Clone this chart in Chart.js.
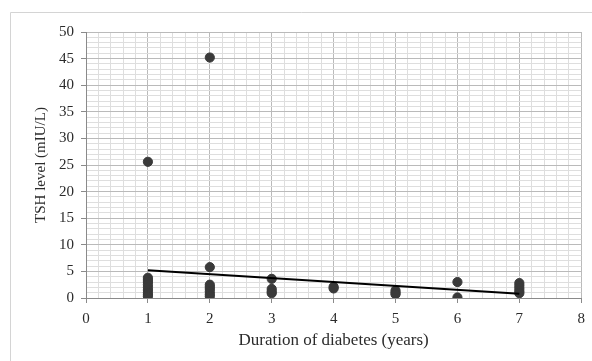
<!DOCTYPE html>
<html lang="en">
<head>
<meta charset="UTF-8">
<title>TSH level vs duration of diabetes</title>
<script src="https://cdn.jsdelivr.net/npm/chart.js@4"></script>
<style>
  html, body { margin: 0; padding: 0; background: #fff; }
  canvas { display: block; }
</style>
</head>
<body>
<canvas id="grafico" width="592" height="361"></canvas>
<script>
// duration of diabetes (years) for each patient and measured TSH (mIU/L)
const duracion = [
  1, 1, 1, 1, 1, 1, 1, 1, 1, 1,
  2, 2, 2, 2, 2, 2, 2, 2,
  3, 3, 3, 3,
  4, 4,
  5, 5, 5,
  6, 6,
  7, 7, 7, 7, 7
];
const tsh = [
  25.6, 3.8, 3.4, 3.0, 2.5, 2.0, 1.5, 1.0, 0.6, 0.3,
  45.2, 5.8, 2.5, 2.1, 1.7, 1.2, 0.7, 0.3,
  3.6, 1.7, 1.2, 0.9,
  2.1, 1.8,
  1.4, 1.0, 0.7,
  3.0, 0.1,
  2.8, 2.3, 1.8, 1.3, 0.9
];

// linear trend line end points
const tendenciaX = [1, 7];
const tendenciaY = [5.2, 0.8];

const puntos = duracion.map((d, i) => ({ x: d, y: tsh[i] }));
const tendencia = tendenciaX.map((d, i) => ({ x: d, y: tendenciaY[i] }));

const fuente = "'Liberation Serif', 'DejaVu Serif', serif";
const colorTexto = '#2b2b2b';
const colorMayor = '#bababa';
const colorMenor = '#dedede';
const colorEje = '#8a8a8a';

const esEntero = (v, paso) => Math.abs(v / paso - Math.round(v / paso)) < 1e-6;

// outer frame of the chart box
const marco = {
  id: 'marco',
  beforeDraw(chart) {
    const ctx = chart.ctx;
    ctx.save();
    ctx.fillStyle = '#fff';
    ctx.fillRect(0, 0, chart.width, chart.height);
    ctx.strokeStyle = '#d4d4d4';
    ctx.lineWidth = 1;
    ctx.beginPath();
    ctx.moveTo(10.5, chart.height + 5);
    ctx.lineTo(10.5, 12.5);
    ctx.lineTo(chart.width + 5, 12.5);
    ctx.stroke();
    ctx.restore();
  }
};

new Chart(document.getElementById('grafico'), {
  type: 'scatter',
  data: {
    datasets: [
      {
        label: 'TSH',
        data: puntos,
        backgroundColor: '#3a3a3a',
        borderColor: '#3a3a3a',
        pointRadius: 4.6,
        pointHoverRadius: 4.6,
        order: 2
      },
      {
        type: 'line',
        label: 'Tendencia',
        data: tendencia,
        borderColor: '#000',
        borderWidth: 2,
        pointRadius: 0,
        fill: false,
        order: 1
      }
    ]
  },
  options: {
    responsive: false,
    animation: false,
    layout: { padding: { left: 0, right: 9, top: 32, bottom: 0 } },
    plugins: {
      legend: { display: false },
      tooltip: { enabled: false }
    },
    scales: {
      x: {
        type: 'linear',
        min: 0,
        max: 8,
        afterFit(scale) { scale.height = 63; },
        ticks: {
          stepSize: 0.2,
          autoSkip: false,
          maxRotation: 0,
          padding: 7,
          color: colorTexto,
          font: { family: fuente, size: 15 },
          callback: v => esEntero(v, 1) ? String(Math.round(v)) : ''
        },
        grid: {
          color: c => esEntero(c.tick.value, 1) ? colorMayor : colorMenor,
          tickColor: c => esEntero(c.tick.value, 1) ? colorEje : 'rgba(0,0,0,0)',
          tickLength: 5
        },
        border: { color: colorEje },
        title: {
          display: true,
          text: 'Duration of diabetes (years)',
          color: colorTexto,
          font: { family: fuente, size: 17 },
          padding: { top: 0, bottom: 10 }
        }
      },
      y: {
        type: 'linear',
        min: 0,
        max: 50,
        afterFit(scale) { scale.width = 86; },
        ticks: {
          stepSize: 1,
          autoSkip: false,
          padding: 7,
          color: colorTexto,
          font: { family: fuente, size: 15 },
          callback: v => esEntero(v, 5) ? String(Math.round(v)) : ''
        },
        grid: {
          color: c => esEntero(c.tick.value, 5) ? colorMayor : colorMenor,
          tickColor: c => esEntero(c.tick.value, 5) ? colorEje : 'rgba(0,0,0,0)',
          tickLength: 5
        },
        border: { color: colorEje },
        title: {
          display: true,
          text: 'TSH level (mIU/L)',
          color: colorTexto,
          font: { family: fuente, size: 15 },
          padding: { top: 32, bottom: 0 }
        }
      }
    }
  },
  plugins: [marco]
});
</script>
</body>
</html>
